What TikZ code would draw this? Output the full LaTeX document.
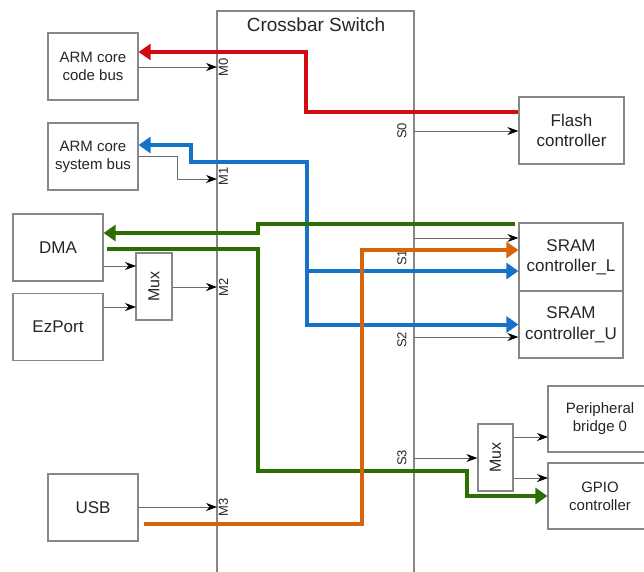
\documentclass[tikz,border=0pt]{standalone}
\usepackage{fontspec}
\setmainfont{Liberation Sans}
\usetikzlibrary{arrows.meta}
\definecolor{busred}{RGB}{210,10,20}
\definecolor{busblue}{RGB}{20,115,200}
\definecolor{busgreen}{RGB}{45,110,0}
\definecolor{busorange}{RGB}{215,100,10}
\definecolor{linegray}{RGB}{135,135,135}

\begin{document}
\begin{tikzpicture}[x=1pt,y=-1pt,
  box/.style={draw=linegray,line width=1.25pt,minimum width=90pt,minimum height=67pt,
              align=center,inner sep=2pt,text=black!85,font=\fontsize{17}{20.5}\selectfont},
  smallbox/.style={box,font=\fontsize{15}{18}\selectfont},
  muxbox/.style={box,minimum width=36pt,font=\fontsize{16}{18}\selectfont},
  port/.style={rotate=90,inner sep=0pt,text=black!85,font=\fontsize{13}{13}\selectfont},
  sig/.style={draw=gray!85!black,line width=0.9pt,-{Stealth[length=11pt,width=8pt,color=black]}},
  bustip/.tip={Triangle[length=12pt,width=16pt]},
  bus/.style={line width=4pt,-bustip},
]
\useasboundingbox (0,0) rectangle (644,571);
\clip (0,0) rectangle (644,571);
\fill[white] (0,0) rectangle (644,571);

% Crossbar
\node[draw=linegray,line width=1.25pt,minimum width=197pt,minimum height=600pt] (xb) at (315.5,311) {};
\node[text=black!85,font=\fontsize{19}{22}\selectfont] (xbt) at (316,25) {Crossbar Switch};

% Masters
\node[smallbox] (code) at (93,66.5)  {ARM core\\code bus};
\node[smallbox] (sys)  at (93,156.5) {ARM core\\system bus};
\node[box]      (dma)  at (58,247.5) {DMA};
\node[box]      (ezp)  at (58,327)   {EzPort};
\node[muxbox]   (mux1) at (154,286.5) {\rotatebox{90}{Mux}};
\node[box]      (usb)  at (93,507.5) {USB};

% Slaves
\node[box,minimum width=105pt] (flash) at (571.5,130.5) {Flash\\controller};
\node[box,minimum width=104pt,minimum height=68pt] (sraml) at (571,257) {SRAM\\controller\_L};
\node[box,minimum width=104pt] (sramu) at (571,324.5) {SRAM\\controller\_U};
\node[muxbox,minimum width=35pt] (mux2) at (495.5,457.5) {\rotatebox{90}{Mux}};
\node[smallbox,minimum width=104pt,minimum height=66pt] (pb)   at (600,419) {Peripheral\\bridge 0};
\node[smallbox,minimum width=104pt,minimum height=66pt] (gpio) at (600,496) {GPIO\\controller};

% Ports
\coordinate (m0) at (217,67);
\coordinate (m1) at (217,179);
\coordinate (m2) at (217,287);
\coordinate (m3) at (217,507);
\coordinate (s0) at (414,131);
\coordinate (s1) at (414,238);
\coordinate (s2) at (414,337);
\coordinate (s3) at (414,458);
\coordinate (mi1) at (136,266);
\coordinate (mi2) at (136,307);
\coordinate (mo1) at (548,437);
\coordinate (mo2) at (548,478);

\node[port] (lm0) at (223.5,67)  {M0};
\node[port] (lm1) at (223.5,176) {M1};
\node[port] (lm2) at (223.5,287) {M2};
\node[port] (lm3) at (223.5,507) {M3};
\node[port] (ls0) at (402,131) {S0};
\node[port] (ls1) at (402,258) {S1};
\node[port] (ls2) at (402,340) {S2};
\node[port] (ls3) at (402,458) {S3};

\draw[sig] (code.east |- m0) -- (m0);
\draw[sig] (sys.east) -- ++(39,0) |- (m1);
\draw[sig] (dma.east |- mi1) -- (mi1);
\draw[sig] (ezp.east |- mi2) -- (mi2);
\draw[sig] (mux1.east |- m2) -- (m2);
\draw[sig] (usb.east |- m3) -- (m3);
\draw[sig] (s0) -- (s0 -| flash.west);
\draw[sig] (s1) -- (s1 -| sraml.west);
\draw[sig] (s2) -- (s2 -| sramu.west);
\draw[sig] (s3) -- (s3 -| mux2.west);
\draw[sig] (mux2.east |- mo1) -- (mo1);
\draw[sig] (mux2.east |- mo2) -- (mo2);

% Buses
\draw[bus,busred] ([yshift=18.5]flash.west) -| (306,52) -- ([yshift=14.5]code.east);
\draw[bus,busblue,bustip-bustip] ([yshift=11.5]sys.east) -| (191,162) -- (307,162) |- (sramu.west);
\draw[bus,busblue] (307,271) -- ([yshift=-14]sraml.west);
\draw[bus,busgreen] ([xshift=-3,yshift=-2]sraml.north west) -| (258,233) -- ([yshift=14.5]dma.east);
\draw[bus,busgreen] ([xshift=3,yshift=-1.5]dma.east) -| (258,471) -- (467,471) |- (gpio.west);
\draw[bus,busorange] ([xshift=5,yshift=-16.5]usb.east) -| (362,250) -- ([yshift=7]sraml.west);
\end{tikzpicture}
\end{document}
